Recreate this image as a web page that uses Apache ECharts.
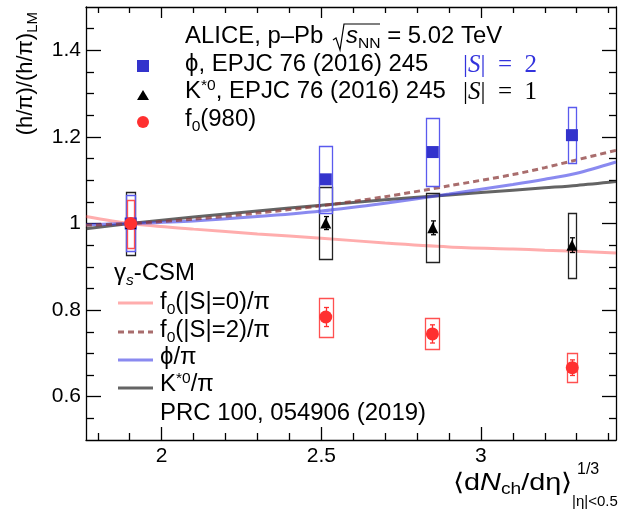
<!DOCTYPE html>
<html><head><meta charset="utf-8">
<script src="https://cdn.jsdelivr.net/npm/echarts@6/dist/echarts.min.js"></script>
<style>html,body{margin:0;padding:0;background:#fff}#c{width:619px;height:509px}</style>
</head><body><div id="c"></div>
<script>
// ---------------- data ----------------
const phiX = [1.903, 2.514, 2.849, 3.285];
const phiY = [1.000, 1.102, 1.165, 1.204];
const phiSys = [0.065, 0.077, 0.079, 0.065];
const phiSysX = [0.014, 0.021, 0.021, 0.013];

const kstX = [1.903, 2.514, 2.849, 3.285];
const kstY = [1.000, 1.001, 0.990, 0.950];
const kstStat = [0.000, 0.015, 0.016, 0.017];
const kstSys = [0.073, 0.083, 0.080, 0.075];
const kstSysX = [0.014, 0.021, 0.021, 0.013];

const f0X = [1.903, 2.514, 2.848, 3.286];
const f0Y = [1.000, 0.784, 0.745, 0.667];
const f0Stat = [0.000, 0.022, 0.021, 0.018];
const f0Sys = [0.055, 0.045, 0.036, 0.033];
const f0SysX = [0.011, 0.022, 0.022, 0.016];

const modelX    = [1.763, 1.9,   2.1,   2.3,   2.5,   2.7,   2.9,   3.1,   3.2,    3.3,   3.423];
const modelF0S0 = [1.016, 1.000, 0.987, 0.976, 0.966, 0.955, 0.946, 0.941, 0.9385, 0.936, 0.932];
const modelF0S2 = [0.996, 1.000, 1.010, 1.024, 1.041, 1.062, 1.087, 1.113, 1.129,  1.147, 1.169];
const modelPhi  = [0.997, 1.000, 1.006, 1.016, 1.029, 1.047, 1.068, 1.090, 1.102,  1.116, 1.142];
const modelKst  = [0.988, 1.000, 1.015, 1.029, 1.042, 1.055, 1.066, 1.077, 1.0825, 1.088, 1.097];

const xMajorTicks = [2, 2.5, 3];
const xMinorTicks = [1.8, 1.9, 2.1, 2.2, 2.3, 2.4, 2.6, 2.7, 2.8, 2.9, 3.1, 3.2, 3.3, 3.4];
const yMajorTicks = [0.6, 0.8, 1.0, 1.2, 1.4];
const yMinorTicks = [0.55, 0.65, 0.7, 0.75, 0.85, 0.9, 0.95, 1.05, 1.1, 1.15, 1.25, 1.3, 1.35, 1.45];

const xMin = 1.763, xMax = 3.423, yMin = 0.5, yMax = 1.5;

// ---------------- styling ----------------
const FONT = 'Liberation Sans, Arial, Helvetica, sans-serif';
const SERIF = 'Liberation Serif, Times New Roman, serif';
const C_PHI = '#3333cc', C_PHI_BOX = '#5a5aee';
const C_K = '#000000', C_K_BOX = '#222222';
const C_F0 = '#ff3030', C_F0_BOX = '#ff5050';
const L_F0S0 = 'rgba(255,60,60,0.42)', L_F0S2 = 'rgba(140,60,60,0.75)';
const L_PHI = 'rgba(60,60,230,0.6)', L_KST = 'rgba(40,40,40,0.72)';
const LEG_FS = 23, LEG_SX = 1.04;

function mkX(pos, ticks, len, labels, line) {
  return {type:'value', min:xMin, max:xMax, position:pos,
    axisLine:{show:line, onZero:false, lineStyle:{color:'#000', width:1.3}},
    axisTick:{show:true, inside:true, length:len, customValues:ticks, lineStyle:{color:'#000', width:1.3}},
    axisLabel:{show:labels, customValues:ticks, fontSize:21, fontFamily:FONT, color:'#000', margin:6},
    splitLine:{show:false}};
}
function mkY(pos, ticks, len, labels, line) {
  return {type:'value', min:yMin, max:yMax, position:pos,
    axisLine:{show:line, onZero:false, lineStyle:{color:'#000', width:1.3}},
    axisTick:{show:true, inside:true, length:len, customValues:ticks, lineStyle:{color:'#000', width:1.3}},
    axisLabel:{show:labels, customValues:ticks, fontSize:21, fontFamily:FONT, color:'#000', margin:5},
    splitLine:{show:false}};
}

function boxSeries(xs, ys, ex, ey, color, z) {
  return {type:'custom', z:z, silent:true, xAxisIndex:0, yAxisIndex:0,
    data: xs.map((x,i)=>[x, ys[i], ex[i], ey[i]]),
    renderItem(params, api){
      const x=api.value(0), y=api.value(1), dx=api.value(2), dy=api.value(3);
      const a=api.coord([x-dx, y+dy]), b=api.coord([x+dx, y-dy]);
      return {type:'rect', shape:{x:Math.round(a[0])+0.5, y:Math.round(a[1])+0.5,
        width:Math.round(b[0]-a[0]), height:Math.round(b[1]-a[1])},
        style:{fill:'none', stroke:color, lineWidth:1.3}};
    }};
}
function errSeries(xs, ys, es, color, z) {
  return {type:'custom', z:z, silent:true, xAxisIndex:0, yAxisIndex:0,
    data: xs.map((x,i)=>[x, ys[i], es[i]]).filter(d=>d[2]>0),
    renderItem(params, api){
      const x=api.value(0), y=api.value(1), e=api.value(2);
      const t=api.coord([x, y+e]), b=api.coord([x, y-e]);
      const cx=Math.round(t[0])+0.5;
      const st={stroke:color, lineWidth:1.3};
      return {type:'group', children:[
        {type:'line', shape:{x1:cx, y1:t[1], x2:cx, y2:b[1]}, style:st},
        {type:'line', shape:{x1:cx-2.5, y1:t[1], x2:cx+2.5, y2:t[1]}, style:st},
        {type:'line', shape:{x1:cx-2.5, y1:b[1], x2:cx+2.5, y2:b[1]}, style:st}]};
    }};
}
function modelSeries(name, ys, color, type, z) {
  return {name, type:'line', z:z, silent:true, smooth:0.3, symbol:'none',
    xAxisIndex:0, yAxisIndex:0,
    data: modelX.map((x,i)=>[x, ys[i]]),
    lineStyle:{color, width:3, type}};
}

const rich = {
  n:{fontSize:LEG_FS, fontFamily:FONT, fill:'#000'},
  it:{fontSize:LEG_FS, fontFamily:FONT, fontStyle:'italic', fill:'#000'},
  sub:{fontSize:15, fontFamily:FONT, fill:'#000', padding:[13,0,0,0]},
  sup:{fontSize:15, fontFamily:FONT, fill:'#000', padding:[0,0,12,0]},
  subit:{fontSize:15, fontFamily:FONT, fontStyle:'italic', fill:'#000', padding:[13,0,0,0]}
};
function txt(x, y, text, extra) {
  return Object.assign({type:'text', x, y, silent:true, scaleX:LEG_SX,
    style:{text, fontSize:LEG_FS, fontFamily:FONT, fill:'#000', align:'left', verticalAlign:'middle', rich}}, extra||{});
}
function legLine(y, color, dash) {
  return {type:'line', silent:true, shape:{x1:118, y1:y, x2:153, y2:y}, style:{stroke:color, lineWidth:3, lineDash:dash}};
}
function mathS(x, y, val, color) {
  const r = {a:{fontSize:25, fontFamily:SERIF, fill:color}, b:{fontSize:25, fontFamily:SERIF, fontStyle:'italic', fill:color}};
  return {type:'text', x, y, silent:true,
    style:{text:'{a||}{b|S}{a||\u2002=\u2002' + val + '}', fill:color, align:'left', verticalAlign:'middle', rich:r}};
}

const chart = echarts.init(document.getElementById('c'), null, {renderer:'canvas'});
chart.setOption({
  animation:false,
  backgroundColor:'#fff',
  grid:{left:86, right:3, top:7, bottom:69, containLabel:false},
  xAxis:[
    mkX('bottom', xMajorTicks, 13, true, true),
    mkX('bottom', xMinorTicks, 7, false, false),
    mkX('top', xMajorTicks, 11, false, true),
    mkX('top', xMinorTicks, 6, false, false)
  ],
  yAxis:[
    mkY('left', yMajorTicks, 15, true, true),
    mkY('left', yMinorTicks, 8, false, false),
    mkY('right', yMajorTicks, 14, false, true),
    mkY('right', yMinorTicks, 7, false, false)
  ],
  series:[
    modelSeries('f0(|S|=0)/π', modelF0S0, L_F0S0, 'solid', 2),
    modelSeries('K*0/π', modelKst, L_KST, 'solid', 2),
    modelSeries('ϕ/π', modelPhi, L_PHI, 'solid', 2),
    modelSeries('f0(|S|=2)/π', modelF0S2, L_F0S2, [6,4], 2),
    boxSeries(kstX, kstY, kstSysX, kstSys, C_K_BOX, 3),
    boxSeries(phiX, phiY, phiSysX, phiSys, C_PHI_BOX, 3),
    boxSeries(f0X, f0Y, f0SysX, f0Sys, C_F0_BOX, 3),
    errSeries(kstX, kstY, kstStat, C_K, 4),
    errSeries(f0X, f0Y, f0Stat, C_F0, 4),
    {name:'ϕ', type:'scatter', z:5, silent:true, symbol:'rect', symbolSize:12,
      data: phiX.map((x,i)=>[x, phiY[i]]), itemStyle:{color:C_PHI, opacity:1}},
    {name:'K*0', type:'scatter', z:6, silent:true, symbol:'triangle', symbolSize:[11,11],
      data: kstX.map((x,i)=>[x, kstY[i]]), itemStyle:{color:C_K, opacity:1}},
    {name:'f0(980)', type:'scatter', z:7, silent:true, symbol:'circle', symbolSize:13,
      data: f0X.map((x,i)=>[x, f0Y[i]]), itemStyle:{color:C_F0, opacity:1}}
  ],
  graphic:[
    // y-axis title
    {type:'text', x:26, y:12, rotation:Math.PI/2, silent:true,
      style:{text:'{n|(h/π)/(h/π)}{s|LM}', align:'right', verticalAlign:'middle',
        rich:{n:{fontSize:22, fontFamily:FONT, fill:'#000'}, s:{fontSize:15, fontFamily:FONT, fill:'#000', padding:[13,0,0,0]}}}},
    // x-axis title
    {type:'text', x:572, y:483, scaleX:1.2, silent:true,
      style:{text:'{n|⟨d}{i|N}{s|ch}{n|/dη⟩}', align:'right', verticalAlign:'middle',
        rich:{n:{fontSize:24, fontFamily:FONT, fill:'#000'}, i:{fontSize:24, fontFamily:FONT, fontStyle:'italic', fill:'#000'},
              s:{fontSize:16, fontFamily:FONT, fill:'#000', padding:[14,0,0,0]}}}},
    {type:'text', x:577, y:470, silent:true, style:{text:'1/3', fontSize:16, fontFamily:FONT, fill:'#000', align:'left', verticalAlign:'middle'}},
    {type:'text', x:572, y:502, silent:true, style:{text:'|η|<0.5', fontSize:15, fontFamily:FONT, fill:'#000', align:'left', verticalAlign:'middle'}},
    // top legend
    txt(185, 37, 'ALICE, p–Pb'),
    {type:'polyline', silent:true, shape:{points:[[333,40],[336,38],[340,50],[344,24],[380,24]]}, style:{stroke:'#000', lineWidth:1.2, fill:null}},
    txt(346, 37, '{it|s}{sub|NN}{n| = 5.02 TeV}'),
    {type:'rect', silent:true, shape:{x:137, y:60, width:12, height:12}, style:{fill:C_PHI}},
    txt(185, 65, 'ϕ, EPJC 76 (2016) 245'),
    mathS(463, 65, '2', '#3333dd'),
    {type:'polygon', silent:true, shape:{points:[[137,100],[149,100],[143,90]]}, style:{fill:'#000'}},
    txt(185, 92, '{n|K}{sup|*0}{n|, EPJC 76 (2016) 245}'),
    mathS(463, 92, '1', '#000'),
    {type:'circle', silent:true, shape:{cx:143, cy:122, r:6}, style:{fill:C_F0}},
    txt(185, 120, '{n|f}{sub|0}{n|(980)}'),
    // model legend
    txt(114, 274, '{n|γ}{subit|s}{n|-CSM}'),
    legLine(303, L_F0S0, null),
    txt(160, 303, '{n|f}{sub|0}{n|(|S|=0)/π}'),
    legLine(332, L_F0S2, [6,4]),
    txt(160, 331, '{n|f}{sub|0}{n|(|S|=2)/π}'),
    legLine(360, L_PHI, null),
    txt(160, 358, 'ϕ/π'),
    legLine(388, L_KST, null),
    txt(160, 385, '{n|K}{sup|*0}{n|/π}'),
    txt(160, 414, 'PRC 100, 054906 (2019)')
  ]
});
</script></body></html>
